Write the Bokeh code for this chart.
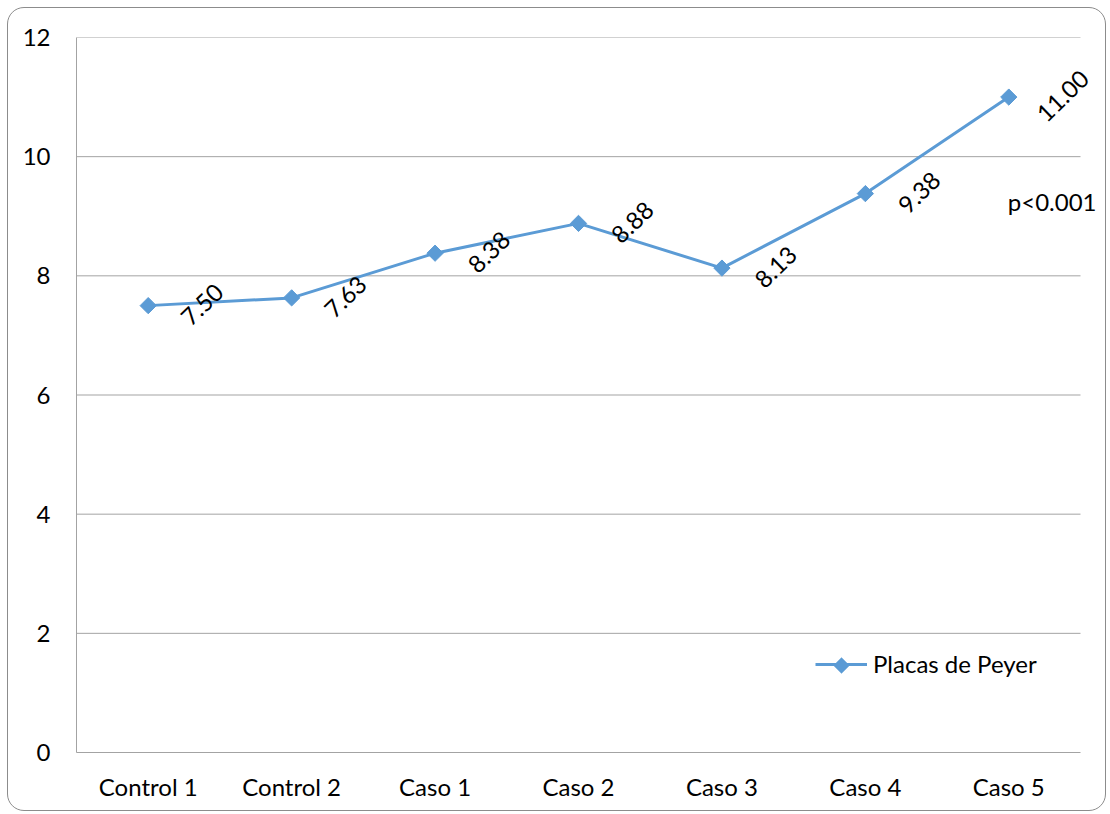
from bokeh.plotting import figure
from bokeh.models import (ColumnDataSource, Range1d, FixedTicker, LinearAxis,
                          Legend, LegendItem, Label, PolyAnnotation)
from bokeh.core.properties import value
from bokeh.embed import file_html
from bokeh.resources import INLINE
import math

categories = ["Control 1", "Control 2", "Caso 1", "Caso 2", "Caso 3", "Caso 4", "Caso 5"]
values = [7.50, 7.63, 8.38, 8.88, 8.13, 9.38, 11.00]
value_labels = ["7.50", "7.63", "8.38", "8.88", "8.13", "9.38", "11.00"]
y_ticks = [0, 2, 4, 6, 8, 10, 12]
series_name = "Placas de Peyer"
note_text = "p<0.001"

FONT = "Lato"
FS = "24px"
BLUE = "#5B9BD5"
GRID = "#a3a3a3"

# categorical slots: each category occupies one unit, centred at i + 0.5
n = len(categories)
xs = [i + 0.5 for i in range(n)]

W, H = 1099, 804
MB_L, MB_T, MB_R, MB_B = 68, 29, 2, 60
frame_w = W - MB_L - MB_R
slot_px = 1004 / n                      # plot area width used by the categories
x_end = frame_w / slot_px               # leave room on the right for labels

src = ColumnDataSource(dict(x=xs, val=values, lab=value_labels))

p = figure(
    x_range=Range1d(0, x_end), y_range=Range1d(0, 12),
    width=W, height=H,
    min_border_left=MB_L, min_border_top=MB_T,
    min_border_right=MB_R, min_border_bottom=MB_B,
    output_backend="svg", toolbar_location=None,
    border_fill_color=None, background_fill_color="white",
    outline_line_color=None, x_axis_location=None,
    styles={"border": "1px solid #8c8c8c", "border-radius": "17px",
            "margin-left": "7px", "margin-top": "7px"},
)

xaxis = LinearAxis(ticker=FixedTicker(ticks=xs),
                   major_label_overrides={x: c for x, c in zip(xs, categories)},
                   bounds=(0, n))
p.add_layout(xaxis, "below")

p.yaxis.ticker = FixedTicker(ticks=y_ticks)
for ax in (xaxis, p.yaxis[0]):
    ax.axis_line_color = GRID
    ax.axis_line_width = 1
    ax.major_tick_line_color = None
    ax.minor_tick_line_color = None
    ax.major_label_text_font = FONT
    ax.major_label_text_font_size = FS
    ax.major_label_text_color = "black"
p.yaxis.major_label_standoff = 20
p.xaxis.major_label_standoff = 13
p.xgrid.grid_line_color = None
p.ygrid.grid_line_color = None

# horizontal gridlines spanning only the category slots
p.segment(x0=0, x1=n, y0=y_ticks[1:], y1=y_ticks[1:], line_color=GRID,
          line_width=1, level="underlay")

# series
ln = p.line("x", "val", source=src, line_color=BLUE, line_width=3)
p.scatter("x", "val", source=src, marker="square", size=11.5,
          angle=math.pi / 4, fill_color=BLUE, line_color=BLUE)

# rotated data labels
p.text("x", "val", text="lab", source=src, angle=math.radians(44),
       x_offset=54, y_offset=-1, text_align="center", text_baseline="middle",
       text_font=value(FONT), text_font_size=value(FS), text_color="black")

# significance note
p.add_layout(Label(x=xs[-1], y=9.25, text=note_text, text_align="left",
                   text_baseline="middle", text_font=FONT,
                   text_font_size=FS, text_color="black", x_offset=-1))

legend = Legend(items=[LegendItem(label=series_name, renderers=[ln])],
                location=(739, 74), orientation="vertical",
                border_line_color=None, background_fill_alpha=0,
                padding=0, margin=0, spacing=0,
                glyph_width=52, glyph_height=26, label_height=26,
                label_standoff=6, label_text_font=FONT,
                label_text_font_size=FS, label_text_color="black")
p.add_layout(legend)

# diamond on the legend sample line
cx, cy, r = 739 + 26, 74 + 13, 8
p.add_layout(PolyAnnotation(xs=[cx - r, cx, cx + r, cx], ys=[cy, cy + r, cy, cy - r],
                            xs_units="screen", ys_units="screen",
                            fill_color=BLUE, fill_alpha=1, line_color=BLUE))

open("out.html", "w").write(file_html(p, INLINE))
